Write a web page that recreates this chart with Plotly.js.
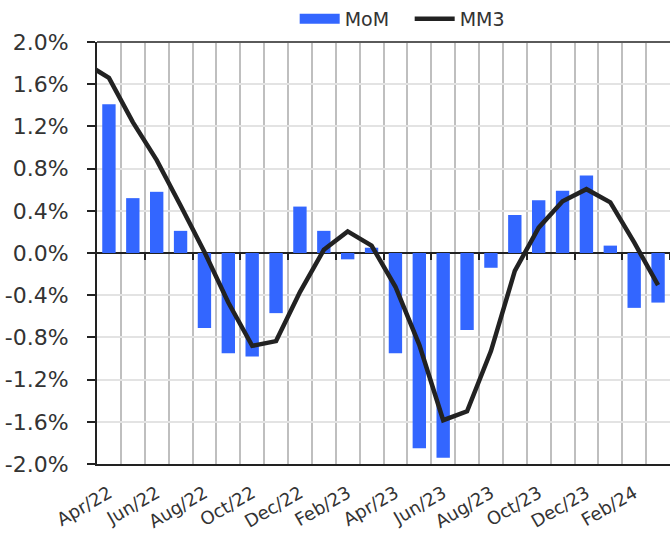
<!DOCTYPE html>
<html>
<head>
<meta charset="utf-8">
<script src="https://cdn.plot.ly/plotly-3.0.1.min.js"></script>
<style>html,body{margin:0;padding:0;background:#fff;}#chart{width:670px;height:540px;}</style>
</head>
<body>
<div id="chart"></div>
<script>
// All month categories (Mar/22 only carries the leading MM3 point, off the left edge)
const months = ["Mar/22","Apr/22","May/22","Jun/22","Jul/22","Aug/22","Sep/22","Oct/22","Nov/22","Dec/22",
  "Jan/23","Feb/23","Mar/23","Apr/23","May/23","Jun/23","Jul/23","Aug/23","Sep/23","Oct/23","Nov/23","Dec/23",
  "Jan/24","Feb/24","Mar/24"];
const barMonths = months.slice(1);
// Month-on-month change, %
const mom = [1.41, 0.52, 0.58, 0.21, -0.71, -0.95, -0.98, -0.57, 0.44, 0.21, -0.06, 0.05,
  -0.95, -1.85, -1.94, -0.73, -0.14, 0.36, 0.50, 0.59, 0.735, 0.07, -0.52, -0.47];
// 3-month moving average, %
const mm3 = [1.80, 1.66, 1.24, 0.88, 0.45, 0.01, -0.47, -0.88, -0.835, -0.37, 0.03, 0.205, 0.07,
  -0.32, -0.87, -1.585, -1.50, -0.93, -0.17, 0.24, 0.49, 0.605, 0.48, 0.10, -0.305];
// Tick labels
const xTickLabels = ["","Apr/22","","Jun/22","","Aug/22","","Oct/22","","Dec/22","","Feb/23","","Apr/23","",
  "Jun/23","","Aug/23","","Oct/23","","Dec/23","","Feb/24",""];
const yTickVals = [-2.0, -1.6, -1.2, -0.8, -0.4, 0.0, 0.4, 0.8, 1.2, 1.6, 2.0];
const yTickText = ["-2.0%","-1.6%","-1.2%","-0.8%","-0.4%","0.0%","0.4%","0.8%","1.2%","1.6%","2.0%"];

// Tick marks on the zero line, every other month boundary
const zeroTickPos = [];
for (let i = 2; i < months.length; i += 2) zeroTickPos.push(i + 0.5);

const FONT = "DejaVu Sans";
const TXT = "#333333";
const BLUE = "#3366ff";

const traces = [
  { // legend swatch for MoM (wide rectangle like the original)
    type: "scatter", mode: "lines", name: "MoM", x: [null], y: [null],
    line: {color: BLUE, width: 13}, hoverinfo: "skip", showlegend: true
  },
  {
    type: "bar", name: "MoM", x: barMonths, y: mom, showlegend: false,
    marker: {color: BLUE}, hoverinfo: "skip"
  },
  {
    type: "scatter", mode: "lines", name: "MM3", x: months, y: mm3, xaxis: "x2",
    line: {color: "#222222", width: 4.5}, hoverinfo: "skip"
  }
];

const layout = {
  width: 670, height: 540,
  margin: {l: 97, r: 0, t: 41, b: 76},
  paper_bgcolor: "#ffffff", plot_bgcolor: "#ffffff",
  font: {family: FONT, color: TXT},
  bargap: 0.44,
  showlegend: true,
  legend: {
    orientation: "h", x: 0.345, xanchor: "left", y: 1.055, yanchor: "middle",
    font: {family: FONT, size: 19, color: TXT}, itemwidth: 40,
    entrywidth: 60, entrywidthmode: "pixels",
    bgcolor: "rgba(0,0,0,0)"
  },
  xaxis: {
    type: "category", categoryorder: "array", categoryarray: months,
    range: [0.5, 24.5], fixedrange: true,
    tickmode: "array", tickvals: months, ticktext: xTickLabels,
    tickson: "boundaries", ticks: "", tickangle: -30,
    ticklabelstandoff: 10,
    tickfont: {family: FONT, size: 18, color: TXT},
    showgrid: true, gridcolor: "#bfbfbf", gridwidth: 2,
    showline: true, linecolor: "#222222", linewidth: 2,
    zeroline: false
  },
  xaxis2: {
    overlaying: "x", anchor: "free", position: 0.5,
    type: "category", categoryorder: "array", categoryarray: months,
    range: [0.5, 24.5], fixedrange: true,
    tickmode: "array", tickvals: zeroTickPos, ticks: "outside", ticklen: 6, tickwidth: 2,
    tickcolor: "#222222", showticklabels: false, showgrid: false, showline: false, zeroline: false
  },
  yaxis: {
    range: [-2, 2], fixedrange: true,
    tickmode: "array", tickvals: yTickVals, ticktext: yTickText,
    ticks: "outside", ticklen: 8, tickwidth: 2, tickcolor: "#222222",
    ticklabelstandoff: 14,
    tickfont: {family: FONT, size: 22, color: TXT},
    showline: true, linecolor: "#222222", linewidth: 2,
    showgrid: true, gridcolor: "#e3e3e3", gridwidth: 2,
    zeroline: true, zerolinecolor: "#222222", zerolinewidth: 2
  },
  shapes: [
    {type: "line", xref: "paper", yref: "paper", x0: 0, x1: 1, y0: 1, y1: 1,
     line: {color: "#5a5a5a", width: 2}, layer: "above"}
  ]
};

Plotly.newPlot("chart", traces, layout, {displayModeBar: false, staticPlot: true});
</script>
</body>
</html>
